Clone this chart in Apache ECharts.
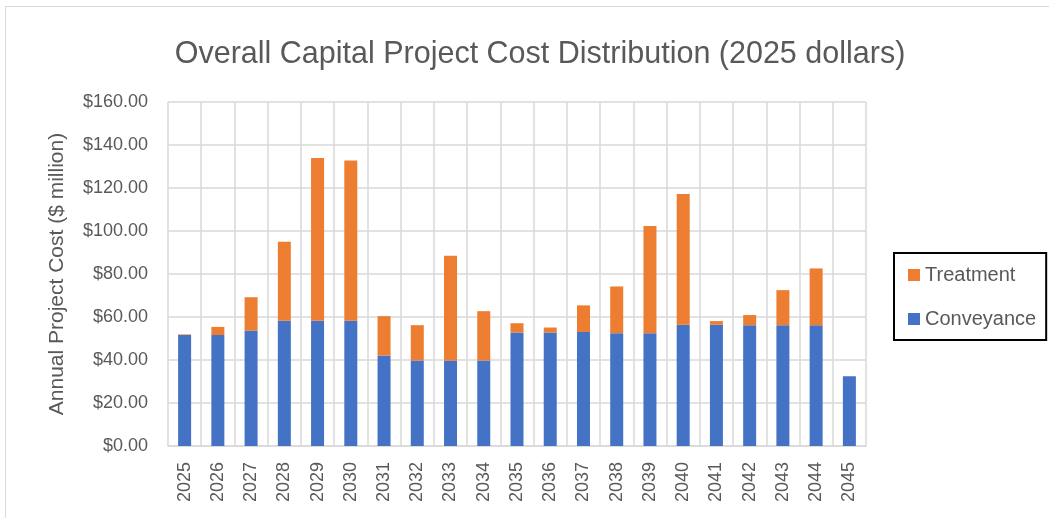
<!DOCTYPE html>
<html>
<head>
<meta charset="utf-8">
<script src="https://cdn.jsdelivr.net/npm/echarts@6/dist/echarts.min.js"></script>
<style>
  html, body { margin: 0; padding: 0; background: #fff; }
  #chart { width: 1049px; height: 518px; }
</style>
</head>
<body>
<div id="chart"></div>
<script>
// 数据
var years = ['2025', '2026', '2027', '2028', '2029', '2030', '2031', '2032', '2033', '2034', '2035',
    '2036', '2037', '2038', '2039', '2040', '2041', '2042', '2043', '2044', '2045'];
var conveyance = [51.6, 51.6, 53.7, 58.2, 58.2, 58.2, 42.1, 39.8, 39.8, 39.8, 52.8,
    52.8, 53.0, 52.5, 52.5, 56.4, 56.4, 56.2, 56.2, 56.2, 32.5];
var treatment = [0.3, 3.8, 15.5, 36.8, 75.7, 74.6, 18.3, 16.4, 48.7, 22.9, 4.3,
    2.3, 12.4, 21.7, 49.8, 60.8, 1.7, 4.7, 16.3, 26.4, 0];
var yTicks = [0, 20, 40, 60, 80, 100, 120, 140, 160];

var font = '"Liberation Sans Narrow", "Arial Narrow", "Liberation Sans", Arial, sans-serif';
var grey = '#595959';

var theChart = echarts.init(document.getElementById('chart'));
var option = {
    backgroundColor: '#fff',
    animation: false,
    title: {
        text: 'Overall Capital Project Cost Distribution (2025 dollars)',
        left: 535,
        textAlign: 'center',
        top: 34,
        textStyle: { fontFamily: font, fontSize: 30.5, fontWeight: 'normal', color: grey }
    },
    graphic: [{
        type: 'rect',
        shape: { x: 5.5, y: 6.5, width: 1100, height: 600 },
        style: { fill: 'none', stroke: '#d9d9d9', lineWidth: 1 },
        silent: true
    }],
    legend: {
        data: ['Treatment', 'Conveyance'],
        orient: 'vertical',
        left: 894,
        top: 253,
        itemWidth: 12,
        itemHeight: 12,
        itemGap: 24,
        icon: 'rect',
        borderColor: '#000',
        borderWidth: 2,
        padding: [12, 10, 11, 14],
        textStyle: { fontFamily: font, fontSize: 20, color: grey }
    },
    grid: { left: 168, right: 183, top: 102, bottom: 72 },
    xAxis: {
        type: 'category',
        data: years,
        axisLine: { lineStyle: { color: '#d9d9d9', width: 1.5 } },
        axisTick: { show: false },
        splitLine: { show: true, lineStyle: { color: '#d9d9d9', width: 1.5 } },
        axisLabel: { rotate: 90, fontFamily: font, fontSize: 18, color: grey, margin: 16, interval: 0 }
    },
    yAxis: {
        type: 'value',
        min: yTicks[0],
        max: yTicks[yTicks.length - 1],
        interval: 20,
        name: 'Annual Project Cost ($ million)',
        nameLocation: 'middle',
        nameGap: 100,
        nameTextStyle: { fontFamily: font, fontSize: 21, color: grey },
        axisLine: { show: false },
        axisTick: { show: false },
        splitLine: { lineStyle: { color: '#d9d9d9', width: 1.5 } },
        axisLabel: {
            fontFamily: font, fontSize: 18, color: grey, margin: 20,
            formatter: function (v) { return '$' + v.toFixed(2); }
        }
    },
    series: [{
        name: 'Conveyance',
        type: 'bar',
        stack: 'cost',
        barWidth: 13,
        itemStyle: { color: '#4472C4' },
        data: conveyance
    }, {
        name: 'Treatment',
        type: 'bar',
        stack: 'cost',
        barWidth: 13,
        itemStyle: { color: '#ED7D31' },
        data: treatment
    }]
};
theChart.setOption(option);
</script>
</body>
</html>
